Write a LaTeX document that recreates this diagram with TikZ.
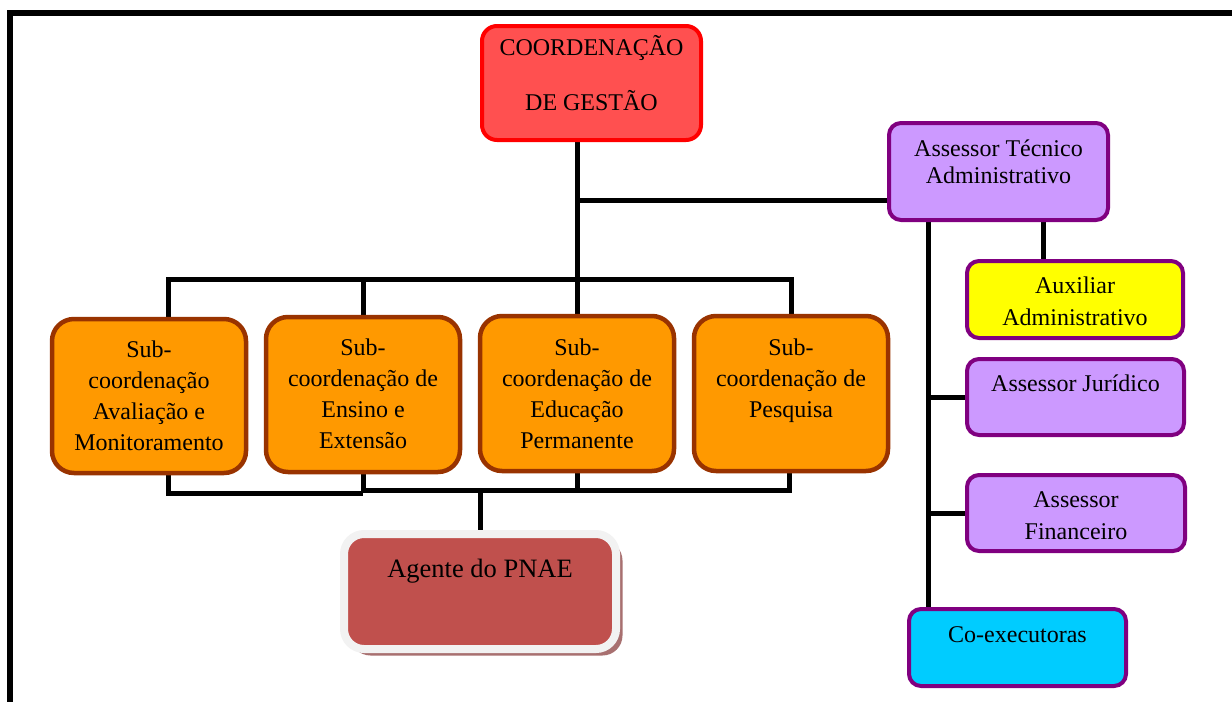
\documentclass[tikz,border=0pt]{standalone}
\usepackage{fontspec}
\setmainfont{Liberation Serif}
\usetikzlibrary{shadows,backgrounds}
\definecolor{coordfill}{HTML}{FF5050}
\definecolor{coordline}{HTML}{FF0000}
\definecolor{orfill}{HTML}{FF9900}
\definecolor{orline}{HTML}{993300}
\definecolor{pufill}{HTML}{CC99FF}
\definecolor{puline}{HTML}{800080}
\definecolor{yefill}{HTML}{FFFF00}
\definecolor{cyfill}{HTML}{00CCFF}
\definecolor{agfill}{HTML}{C0504D}
\definecolor{agline}{HTML}{F2F2F2}
\definecolor{agshadow}{HTML}{A87070}
\newcommand\boxtxt[6]{\parbox[c][#2pt][t]{#1pt}{\centering\fontsize{#3}{#4}\selectfont\rule{0pt}{#5pt}#6\par}}
\begin{document}
\begin{tikzpicture}[x=1pt,y=-1pt,
  basebox/.style={anchor=north west,inner sep=0pt,outer sep=0pt,draw},
  coordbox/.style={basebox,fill=coordfill,draw=coordline,line width=4pt,rounded corners=15pt},
  subbox/.style={basebox,fill=orfill,draw=orline,line width=4.5pt,rounded corners=22pt},
  pubox/.style={basebox,fill=pufill,draw=puline,line width=4pt,rounded corners=12pt},
  yebox/.style={pubox,fill=yefill},
  cybox/.style={pubox,fill=cyfill},
  agbox/.style={basebox,fill=agfill,draw=agline,line width=8pt,rounded corners=20pt,
    drop shadow={shadow xshift=6.5pt,shadow yshift=-6.5pt,fill=agshadow,opacity=1}},
  conn/.style={draw=black,line width=5pt},
  frame/.style={draw=black,line width=6pt}]
\useasboundingbox (0,0) rectangle (1232,702);
\draw[frame] (1232,13) -- (10,13) -- (10,702);

\node[coordbox] (coord) at (482,26) {\boxtxt{219}{114}{24}{55}{29}{COORDENAÇÃO\\DE GESTÃO}};

\node[subbox] (s1) at (52,319) {\boxtxt{194}{154}{24}{31}{38}{Sub-\\coordenação\\Avaliação e\\Monitoramento}};
\node[subbox] (s2) at (266,317) {\boxtxt{194}{155}{24}{31}{38}{Sub-\\coordenação de\\Ensino e\\Extensão}};
\node[subbox] (s3) at (480,316) {\boxtxt{194}{155}{24}{31}{39}{Sub-\\coordenação de\\Educação\\Permanente}};
\node[subbox] (s4) at (694,316) {\boxtxt{194}{155}{24}{31}{39}{Sub-\\coordenação de\\Pesquisa}};

\node[agbox] (ag) at (344,534) {\boxtxt{272}{115}{26.5}{32}{43}{Agente do PNAE}};

\node[pubox] (ata) at (889,123) {\boxtxt{219}{97}{24}{27}{33}{Assessor Técnico\\Administrativo}};
\node[yebox] (aux) at (967,261) {\boxtxt{216}{77}{24}{32}{32}{Auxiliar\\Administrativo}};
\node[pubox] (jur) at (967,359) {\boxtxt{217}{76}{24}{32}{32}{Assessor Jurídico}};
\node[pubox] (fin) at (967,475) {\boxtxt{218}{76}{24}{32}{32}{Assessor\\Financeiro}};
\node[cybox] (coex) at (909,609) {\boxtxt{217}{77}{24}{32}{33}{Co-executoras}};

\coordinate (jA) at (0,200);
\coordinate (busT) at (0,279);
\coordinate (busB1) at (0,493);
\coordinate (busB2) at (0,490);
\coordinate (x1) at (168,0);
\coordinate (x4) at (789,0);
\coordinate (xr) at (928,0);
\coordinate (xaux) at (1043,0);

\begin{scope}[on background layer]
\draw[conn] (coord.south -| s3.north) -- (s3.north);
\draw[conn] (s3.north |- jA) -- (ata.west |- jA);
\draw[conn] (x1 |- s1.north) -- (x1 |- busT) -- (s4.north |- busT) -- (s4.north);
\draw[conn] (s2.north |- busT) -- (s2.north);
\draw[conn] (x1 |- s1.south) -- (x1 |- busB1) -- (s2.south |- busB1);
\draw[conn] (s2.south) -- (s2.south |- busB1);
\draw[conn] (s2.south |- busB2) -- (x4 |- busB2) -- (x4 |- s4.south);
\draw[conn] (s3.south) -- (s3.south |- busB2);
\draw[conn] (ag.north |- busB2) -- (ag.north);
\draw[conn] (xr |- ata.south) -- (xr |- coex.north);
\draw[conn] (xr |- jur.west) -- (jur.west);
\draw[conn] (xr |- fin.west) -- (fin.west);
\draw[conn] (xaux |- ata.south) -- (xaux |- aux.north);
\end{scope}
\end{tikzpicture}
\end{document}
